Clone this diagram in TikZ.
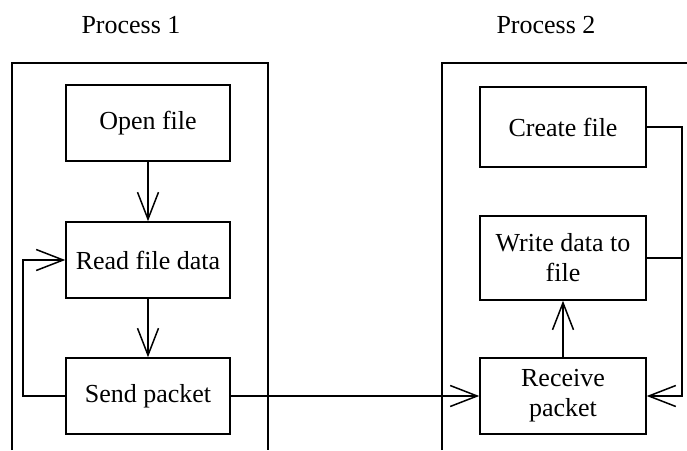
\documentclass[tikz,border=0pt]{standalone}
\usepackage{fontspec}
\setmainfont{Liberation Serif}
\usetikzlibrary{arrows.meta}
\begin{document}
\begin{tikzpicture}[x=1pt,y=-1pt,line width=1.5pt,
  font=\fontsize{26}{30}\selectfont,
  stepbox/.style={draw,rectangle,inner sep=0pt,align=center},
  arr/.style={-{Straight Barb[length=27pt,width=21pt]}}]
\useasboundingbox (0,0) rectangle (687,450);

% process containers (open at the bottom)
\draw (12,450) -- (12,63) -- (268,63) -- (268,450);
\draw (442,450) -- (442,63) -- (687,63);

% titles
\node[anchor=base] (t1) at (131,33) {Process 1};
\node[anchor=base] (t2) at (546,33) {Process 2};

% process 1 steps
\node[stepbox,minimum width=164pt,minimum height=76pt] (open) at (148,123) {Open file};
\node[stepbox,minimum width=164pt,minimum height=76pt] (read) at (148,260) {Read file data};
\node[stepbox,minimum width=164pt,minimum height=76pt] (send) at (148,396) {Send packet};

% process 2 steps
\node[stepbox,minimum width=166pt,minimum height=80pt] (create) at (563,127) {Create file};
\node[stepbox,minimum width=166pt,minimum height=84pt] (write) at (563,258) {Write data to\\file};
\node[stepbox,minimum width=166pt,minimum height=76pt] (recv) at (563,396) {Receive\\packet};

% process 1 flow
\draw[arr] (open) -- (read);
\draw[arr] (read) -- (send);
\coordinate (lx) at (23,260);
\draw[arr] (send.west) -- (send.west -| lx) -- (lx) -- (read.west);

% hand-over between processes
\draw[arr] (send.east) -- (recv.west);

% process 2 flow
\draw[arr] (recv.north) -- (write.south);
\coordinate (rtop) at (682,127);
\coordinate (rbot) at (682,396);
\draw[arr] (create.east) -- (rtop) -- (rbot) -- (recv.east);
\draw (write.east) -- (write.east -| rtop);
\end{tikzpicture}
\end{document}
